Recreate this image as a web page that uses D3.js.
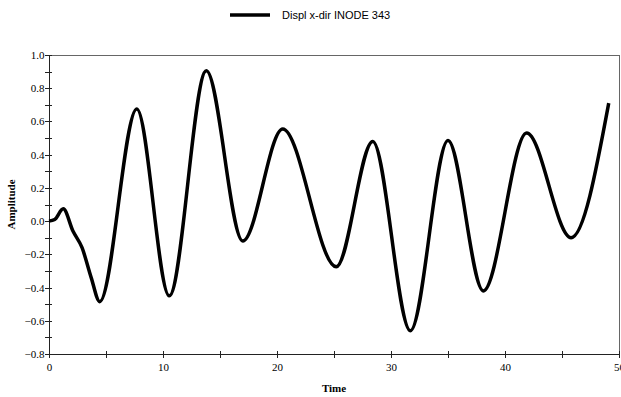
<!DOCTYPE html>
<html><head><meta charset="utf-8">
<script src="https://cdn.jsdelivr.net/npm/d3@7"></script>
<style>body{margin:0;background:#fff}svg{display:block}</style>
</head><body>
<div id="chart"></div>
<script>
const seriesName = "Displ x-dir INODE 343";
const times = [0, 0.5, 1.25, 2.1, 2.9, 3.7, 4.45, 7.7, 10.55, 13.8, 17.0, 20.5, 25.2, 28.4, 31.7, 35.0, 38.1, 41.9, 45.8, 49.1];
const amplitude = [0, 0.01, 0.074, -0.06, -0.16, -0.34, -0.485, 0.675, -0.45, 0.905, -0.12, 0.555, -0.275, 0.48, -0.66, 0.485, -0.42, 0.53, -0.1, 0.71];
const xTicks = [0, 10, 20, 30, 40, 50];
const yTicks = [-0.8, -0.6, -0.4, -0.2, 0.0, 0.2, 0.4, 0.6, 0.8, 1.0];
const xTitle = "Time", yTitle = "Amplitude";

const W = 621, H = 397;
const L = 49, R = 619, T = 55, B = 354;
const svg = d3.select("#chart").append("svg").attr("width", W).attr("height", H);
const x = d3.scaleLinear().domain([0, 50]).range([L, R]);
const y = d3.scaleLinear().domain([-0.8, 1.0]).range([B, T]);
const data = times.map((t, i) => ({t, v: amplitude[i]}));

// frame
svg.append("line").attr("x1", L).attr("x2", R).attr("y1", T + 0.5).attr("y2", T + 0.5).attr("stroke", "#666");
svg.append("line").attr("x1", R + 0.5).attr("x2", R + 0.5).attr("y1", T).attr("y2", B).attr("stroke", "#666");

// minor ticks
const gx = svg.append("g");
d3.range(0, 51, 5).forEach(v => {
  gx.append("line").attr("x1", Math.round(x(v)) + 0.5).attr("x2", Math.round(x(v)) + 0.5)
    .attr("y1", B - 3).attr("y2", B + 4).attr("stroke", "#222");
});
d3.range(-8, 11, 1).forEach(k => {
  const v = k / 10;
  gx.append("line").attr("y1", Math.round(y(v)) + 0.5).attr("y2", Math.round(y(v)) + 0.5)
    .attr("x1", L - 4).attr("x2", L + 3).attr("stroke", "#222");
});

// axes
const xa = svg.append("g").attr("transform", `translate(0,${B + 0.5})`)
  .call(d3.axisBottom(x).tickValues(xTicks).tickSize(0).tickPadding(9).tickFormat(d3.format("d")));
const ya = svg.append("g").attr("transform", `translate(${L + 0.5},0)`)
  .call(d3.axisLeft(y).tickValues(yTicks).tickSize(0).tickPadding(5).tickFormat(d3.format(".1f")));
[xa, ya].forEach(g => {
  g.select(".domain").attr("stroke", "#222");
  g.selectAll("text").attr("font-family", "'Liberation Serif', 'Times New Roman', serif").attr("font-size", 11).attr("fill", "#000");
});
xa.select(".domain").attr("d", `M${L},0H${R}`);
ya.select(".domain").attr("d", `M0,${T}V${B}`);

// curve
svg.append("path").datum(data)
  .attr("fill", "none").attr("stroke", "#000").attr("stroke-width", 3.5).attr("stroke-linejoin", "round")
  .attr("d", d3.line().x(d => x(d.t)).y(d => y(d.v)).curve(d3.curveMonotoneX));

// titles
svg.append("text").attr("x", (L + R) / 2).attr("y", 392).attr("text-anchor", "middle")
  .attr("font-family", "'Liberation Serif', serif").attr("font-size", 11).attr("font-weight", "bold").text(xTitle);
svg.append("text").attr("transform", `translate(15,${(T + B) / 2}) rotate(-90)`).attr("text-anchor", "middle")
  .attr("font-family", "'Liberation Serif', serif").attr("font-size", 11).attr("font-weight", "bold").text(yTitle);

// legend
svg.append("line").attr("x1", 230).attr("x2", 270).attr("y1", 15).attr("y2", 15).attr("stroke", "#000").attr("stroke-width", 3.5);
svg.append("text").attr("x", 282).attr("y", 19).attr("font-family", "'Liberation Sans', Arial, sans-serif")
  .attr("font-size", 11).text(seriesName);
</script>
</body></html>
